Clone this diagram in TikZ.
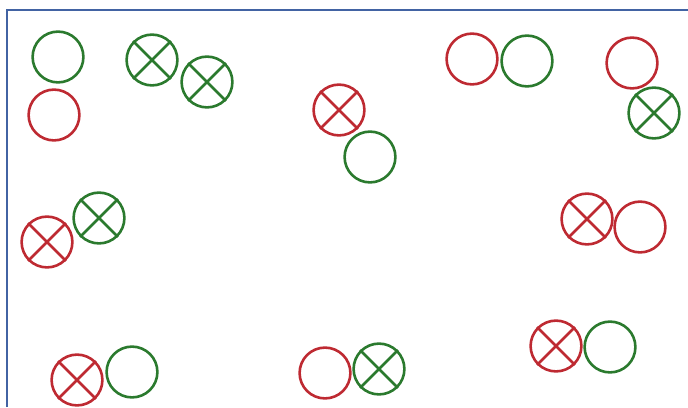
\documentclass[tikz,border=0pt]{standalone}
\usetikzlibrary{positioning}
\definecolor{anelverde}{HTML}{2B7A2E}
\definecolor{anelvermelho}{HTML}{BE2A32}
\definecolor{bordaazul}{HTML}{4263A3}
\tikzset{
  anel/.style={circle, draw, line width=0.065cm, minimum size=1.27cm, inner sep=0pt},
  aneldeverde/.style={anel, draw=anelverde},
  aneldevermelho/.style={anel, draw=anelvermelho},
  cruzverde/.style={line width=0.065cm, draw=anelverde},
  cruzvermelha/.style={line width=0.065cm, draw=anelvermelho},
  borda/.style={line width=0.06cm, draw=bordaazul},
}
\begin{document}
\begin{tikzpicture}[x=0.025cm, y=-0.025cm]
        \useasboundingbox (0,0) rectangle (688,407);
        \draw[borda] (7,407) -- (7,10) -- (688,10);
        % linha de cima
        \node[aneldeverde] (v1) at (58,57) {};
        \node[aneldevermelho] (m1) at (54,115) {};
        \node[aneldeverde] (vx1) at (152,60) {};
        \node[aneldeverde] (vx2) at (207,82) {};
        \node[aneldevermelho] (mx1) at (339,110) {};
        \node[aneldeverde] (v2) at (370,157) {};
        \node[aneldevermelho] (m2) at (472,59) {};
        \node[aneldeverde] (v3) at (527,61) {};
        \node[aneldevermelho] (m3) at (632,63) {};
        \node[aneldeverde] (vx3) at (654,113) {};
        % meio
        \node[aneldeverde] (vx4) at (99,218) {};
        \node[aneldevermelho] (mx2) at (47,242) {};
        \node[aneldevermelho] (mx3) at (587,219) {};
        \node[aneldevermelho] (m4) at (640,227) {};
        % linha de baixo
        \node[aneldevermelho] (mx4) at (77,380) {};
        \node[aneldeverde] (v4) at (132,372) {};
        \node[aneldevermelho] (m5) at (325,373) {};
        \node[aneldeverde] (vx5) at (379,369) {};
        \node[aneldevermelho] (mx5) at (556,346) {};
        \node[aneldeverde] (v5) at (610,347) {};
        % cruzes
        \foreach \n in {vx1,vx2,vx3,vx4,vx5} {
            \draw[cruzverde] (\n.45) -- (\n.225);
            \draw[cruzverde] (\n.135) -- (\n.315);
        }
        \foreach \n in {mx1,mx2,mx3,mx4,mx5} {
            \draw[cruzvermelha] (\n.45) -- (\n.225);
            \draw[cruzvermelha] (\n.135) -- (\n.315);
        }
    \end{tikzpicture}
\end{document}
